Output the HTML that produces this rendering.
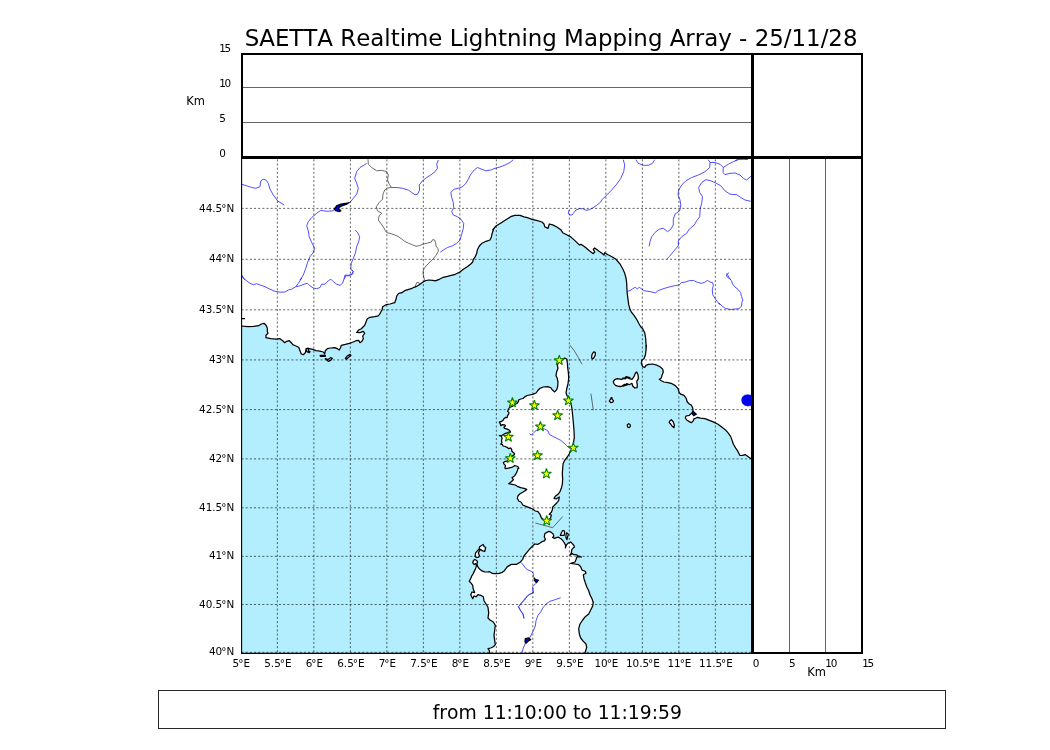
<!DOCTYPE html>
<html lang="en"><head><meta charset="utf-8"><title>SAETTA Realtime Lightning Mapping Array</title>
<style>
html,body{margin:0;padding:0;background:#fff;}
body{width:1050px;height:750px;position:relative;overflow:hidden;font-family:"DejaVu Sans","Liberation Sans",sans-serif;}
svg text{white-space:pre;font-kerning:none;font-variant-ligatures:none;}
</style></head><body>
<svg width="1050" height="750" viewBox="0 0 1050 750" style="position:absolute;left:0;top:0">
<defs><clipPath id="mc"><rect x="241.5" y="157.5" width="511.0" height="495.5"/></clipPath></defs>
<rect x="241.5" y="157.5" width="511.0" height="495.5" fill="#b3eeff"/>
<g clip-path="url(#mc)">
<polygon points="230,326.0 241.1,326.0 248.0,326.7 253.3,326.4 258.7,325.7 261.3,324.0 264.0,323.3 266.0,325.3 267.3,328.0 267.3,331.3 268.0,333.3 266.0,335.3 266.0,337.7 270.7,338.7 276.0,339.1 280.0,338.7 282.7,340.7 284.7,342.7 286.7,341.3 289.3,340.7 291.3,342.7 292.7,344.7 296.0,346.0 298.7,347.3 300.0,350.7 301.3,354.0 303.3,354.7 305.3,352.7 306.0,350.0 307.3,348.4 309.3,348.7 312.7,349.3 316.0,350.7 320.0,351.1 323.3,352.0 324.7,354.0 325.3,350.7 327.3,348.7 330.7,348.0 334.7,347.6 337.3,348.7 339.3,350.0 340.7,347.3 341.3,345.3 345.3,344.4 349.3,343.3 353.3,342.0 356.0,340.7 358.7,340.4 360.0,342.7 362.0,341.3 363.3,338.7 362.7,336.0 364.7,333.3 363.3,331.3 360.0,332.7 356.7,332.4 358.7,330.0 361.3,328.7 364.7,325.3 366.0,322.0 367.3,318.7 370.0,317.3 374.7,316.7 378.3,315.8 379.3,314.7 382.0,310.0 382.7,306.7 386.0,304.7 390.0,304.0 394.7,302.7 396.0,299.3 396.7,296.0 398.7,293.3 402.0,292.7 404.7,290.7 408.7,289.3 411.3,288.7 414.0,287.3 416.7,286.3 419.3,284.7 422.0,282.7 424.7,280.9 428.7,280.0 432.7,280.4 435.3,280.9 439.3,279.3 443.3,277.3 447.3,276.4 451.3,275.3 455.3,274.3 459.3,272.4 463.3,269.3 467.3,266.7 470.7,264.0 472.7,262.0 473.3,259.3 475.3,256.7 476.7,253.3 477.3,250.0 479.3,246.0 482.0,243.3 486.0,241.3 490.0,240.0 491.3,237.3 492.0,234.0 493.3,230.0 492.7,230.0 496.0,226.0 501.3,222.7 506.7,219.3 510.7,216.7 514.7,215.3 520.0,215.3 524.0,216.9 527.3,217.7 532.0,219.3 537.3,220.7 542.0,222.0 544.0,224.0 544.7,226.7 548.0,228.4 549.3,224.0 552.7,224.9 557.3,227.3 560.7,229.7 562.7,232.7 566.7,234.7 570.7,236.9 574.7,240.4 578.0,243.6 579.3,244.9 581.3,244.4 585.3,247.3 589.3,250.7 593.3,253.7 594.7,252.0 593.3,249.3 594.7,248.0 598.7,251.1 602.0,253.3 604.0,255.1 604.7,252.7 608.0,254.7 612.0,256.7 616.0,259.3 620.0,264.0 622.7,268.7 624.7,273.3 626.0,278.0 626.7,283.3 626.9,288.7 627.3,294.0 628.0,299.3 628.7,304.7 630.0,309.3 631.3,312.0 634.0,315.3 636.7,319.3 638.7,323.3 640.7,326.7 642.7,328.7 644.7,332.7 645.6,338.0 646.0,343.3 646.0,350.0 646.4,345.3 646.0,350.7 645.3,355.3 644.0,358.7 642.0,360.0 641.3,363.3 642.7,366.7 644.7,367.3 646.0,365.3 648.7,364.3 652.7,364.0 656.7,365.1 660.0,366.7 662.7,369.1 663.3,372.0 662.0,375.3 661.3,378.0 659.3,379.3 661.3,380.7 664.0,382.0 668.0,382.7 672.0,383.7 675.3,385.6 678.0,388.7 679.3,392.7 681.3,394.4 684.0,395.3 686.0,398.0 687.3,402.0 689.3,404.0 691.3,405.1 692.7,408.0 693.1,411.3 692.0,413.1 689.3,415.3 686.0,416.0 685.3,418.0 686.7,420.0 689.3,421.6 691.3,422.7 693.3,420.7 694.0,418.7 694.7,418.7 697.5,417.3 700.3,418.2 704.9,418.7 708.7,420.1 713.3,421.9 718.0,424.3 721.7,427.1 725.5,429.9 728.3,433.1 730.6,436.4 732.0,440.1 733.4,444.3 735.7,448.1 737.6,450.9 739.9,455.5 742.3,455.3 745.1,454.6 747.9,456.5 752.5,459.7 765,459.7 765,140 230,140" fill="#fff" stroke="#000" stroke-width="1.25" stroke-linejoin="round"/>
<polygon points="510.5,432.1 509.5,430.2 507.3,429.1 504.7,428.3 503.9,427.3 505.5,425.9 504.7,424.9 502.5,424.6 500.7,425.7 500.4,423.8 499.3,422.2 501.5,421.4 503.3,420.1 503.9,418.7 505.5,417.4 507.1,417.7 507.6,415.5 508.7,414.2 508.9,412.3 507.6,411.5 508.4,409.4 509.5,407.5 512.1,406.5 515.3,404.3 516.9,403.5 518.3,401.9 518.8,399.8 520.7,399.0 523.1,398.5 524.4,397.1 527.1,395.5 532.7,394.3 536.0,393.0 538.0,390.3 540.0,388.3 543.3,387.0 547.3,386.6 550.7,387.7 552.7,390.3 554.7,391.9 556.7,389.7 557.7,386.3 558.0,382.3 557.3,378.3 556.0,375.7 556.7,371.7 558.0,368.3 557.3,365.0 558.7,362.3 561.3,359.7 564.7,358.1 566.7,359.0 567.3,362.3 567.7,367.7 568.4,373.0 568.7,378.3 568.0,383.7 566.7,389.0 566.0,393.0 567.3,396.3 569.3,399.7 571.1,403.7 572.0,409.0 572.7,415.7 573.3,422.3 574.0,430.3 574.3,438.3 574.0,439.0 573.7,441.7 572.9,445.7 571.3,449.7 569.3,453.7 567.3,457.0 564.7,460.3 563.1,463.7 562.7,468.3 562.3,473.7 562.7,479.0 562.3,484.3 561.3,488.3 560.0,491.7 558.0,494.3 555.3,496.3 554.0,498.3 556.0,499.0 559.3,497.0 558.7,500.3 556.7,503.0 554.7,505.0 552.7,507.0 552.4,509.7 551.3,512.3 549.3,514.3 551.3,515.0 550.7,517.7 548.7,520.3 546.7,521.7 544.0,520.3 541.3,517.7 540.0,514.3 538.0,511.7 535.3,511.0 532.7,509.0 529.3,507.7 526.0,506.3 522.7,505.0 521.3,502.3 518.7,501.0 517.3,498.3 518.0,495.7 520.0,493.7 522.7,492.3 524.7,491.0 526.7,489.4 524.0,488.3 520.7,487.7 517.3,486.3 515.3,485.0 512.0,484.3 508.7,483.7 511.3,481.7 513.3,479.7 512.0,477.7 514.7,475.7 516.0,473.7 517.3,471.0 518.0,468.3 518.8,468.4 518.0,466.8 516.4,466.0 514.5,465.5 513.7,466.5 511.6,467.3 508.4,468.1 505.5,468.7 504.9,467.9 505.5,465.7 504.1,464.1 503.3,462.5 504.7,461.7 507.3,460.9 512.7,455.6 514.3,454.8 514.5,453.5 513.2,452.4 511.9,451.3 511.6,449.2 510.5,447.9 508.7,448.7 507.6,447.6 505.2,446.5 503.1,446.0 502.5,444.7 500.7,444.1 502.0,442.8 501.5,440.7 502.0,438.5 501.5,436.1 499.3,435.6 502.0,435.3 504.7,433.7 507.9,432.7" fill="#fff" stroke="#000" stroke-width="1.25" stroke-linejoin="round"/>
<polygon points="490.0,654.0 489.3,650.7 488.0,648.7 490.7,648.0 493.3,646.7 495.3,644.7 494.7,640.7 494.0,635.3 494.7,630.0 495.3,625.3 493.3,622.0 490.0,620.0 488.0,618.0 488.7,612.7 488.0,607.3 486.0,604.0 484.0,600.7 483.3,596.7 480.7,595.3 478.0,594.7 476.0,596.7 474.0,596.0 472.7,598.7 470.7,594.7 472.0,592.0 474.7,592.7 473.3,589.3 472.7,585.3 470.7,582.7 469.3,581.3 471.3,577.3 471.3,576.8 472.9,574.1 474.5,570.9 475.9,567.7 476.4,565.6 475.6,563.5 474.0,564.5 472.7,562.7 473.5,560.5 474.8,559.5 476.7,560.5 477.5,561.9 476.9,564.0 477.5,566.1 479.3,568.8 482.0,570.9 484.7,571.9 487.3,572.0 489.5,571.7 491.6,573.1 493.7,573.7 496.4,573.7 499.1,573.3 502.3,572.3 504.4,570.7 505.7,568.8 507.1,566.9 509.2,565.6 511.3,564.4 514.0,564.3 516.7,564.3 518.8,562.9 520.0,562.4 522.7,559.3 524.0,556.0 526.7,552.7 530.0,548.7 532.7,546.0 534.7,544.0 537.7,544.4 539.8,543.3 541.9,541.7 544.3,540.9 545.4,539.3 544.3,536.9 544.9,533.5 547.3,532.1 549.1,531.3 551.0,532.1 553.1,534.0 553.9,536.1 552.6,537.5 554.5,538.3 556.3,537.7 558.5,537.2 560.1,538.3 561.7,539.3 563.0,540.9 564.1,542.5 564.9,543.9 565.7,545.5 565.4,547.9 566.5,544.9 568.1,543.1 570.7,542.0 572.3,543.6 573.9,545.5 574.5,547.1 573.1,548.1 571.8,549.7 571.5,551.9 571.0,553.5 569.9,555.3 572.3,553.5 573.4,554.5 575.5,554.5 577.1,555.1 578.2,556.1 580.3,556.7 581.4,556.9 578.7,556.9 577.1,556.7 576.6,557.7 576.1,559.3 575.0,562.0 570.7,563.3 574.7,564.0 578.7,564.7 580.7,566.7 582.0,570.0 585.3,571.3 586.0,573.3 583.3,574.7 584.0,578.7 585.3,582.7 586.7,586.7 588.7,590.7 590.0,594.7 592.0,598.7 593.3,602.7 593.3,602.0 592.7,606.0 590.7,610.0 588.7,614.0 585.3,616.7 582.7,620.0 580.0,624.0 578.7,628.7 579.3,634.0 580.7,638.0 583.3,641.3 586.0,644.0 586.7,647.3 584.7,654.0" fill="#fff" stroke="#000" stroke-width="1.25" stroke-linejoin="round"/>
<polygon points="613.3,381.7 614.7,379.7 617.3,378.6 621.3,379.4 624.7,378.1 626.0,376.7 630.0,377.7 622.7,378.0 625.3,378.9 626.7,377.3 629.3,378.7 632.0,379.3 634.0,376.7 635.3,373.3 636.7,372.0 638.0,374.7 638.4,378.7 636.7,381.3 637.3,384.7 637.1,387.7 634.7,388.0 632.7,386.0 632.0,383.3 629.3,384.7 626.7,383.7 624.0,386.0 620.0,386.7 627.3,385.0 624.7,384.3 622.0,386.1 618.7,386.3 616.0,385.7 614.0,383.9" fill="#fff" stroke="#000" stroke-width="1.25" stroke-linejoin="round"/>
<polygon points="670.0,420.7 671.3,419.7 673.3,422.0 674.4,425.3 674.0,427.7 672.0,426.0 670.4,423.7 669.1,422.4" fill="#fff" stroke="#000" stroke-width="1.25" stroke-linejoin="round"/>
<polygon points="627.3,424.7 628.7,423.7 630.1,424.5 630.4,426.4 629.1,427.6 627.5,426.9" fill="#fff" stroke="#000" stroke-width="1.25" stroke-linejoin="round"/>
<polygon points="591.6,357.7 592.0,354.3 593.7,351.9 595.3,352.3 595.3,355.0 593.7,358.1 592.4,359.0" fill="#fff" stroke="#000" stroke-width="1.25" stroke-linejoin="round"/>
<polygon points="609.3,401.0 610.4,399.4 611.1,397.7 612.0,397.7 612.1,399.4 613.5,400.5 612.9,402.1 610.7,402.6" fill="#fff" stroke="#000" stroke-width="1.25" stroke-linejoin="round"/>
<polygon points="479.6,546.7 483.1,544.5 484.1,546.4 485.7,547.5 484.7,551.5 482.0,550.7 480.4,549.3 479.3,551.2 478.3,552.8 479.3,555.5 478.8,557.1 476.1,557.3 475.1,556.5 475.6,552.8 477.5,550.7 479.3,548.8" fill="#fff" stroke="#000" stroke-width="1.25" stroke-linejoin="round"/>
<polygon points="560.3,535.3 561.4,532.7 562.7,530.5 564.3,530.8 564.6,533.2 564.1,535.3 561.9,535.3" fill="#fff" stroke="#000" stroke-width="1.25" stroke-linejoin="round"/>
<polygon points="566.5,532.9 567.8,533.5 568.3,534.8 567.8,536.1 567.3,538.0 567.0,539.6 566.2,538.5 565.9,536.4 566.2,534.3" fill="#fff" stroke="#000" stroke-width="1.25" stroke-linejoin="round"/>
<polygon points="325.3,358.7 328.0,359.6 330.7,357.7 332.3,358.3 330.7,360.4 328.3,361.3" fill="#fff" stroke="#000" stroke-width="1.25" stroke-linejoin="round"/>
<polygon points="345.3,358.3 347.3,356.0 350.0,354.4 350.9,355.3 348.7,357.3 346.4,359.3" fill="#fff" stroke="#000" stroke-width="1.25" stroke-linejoin="round"/>
<polygon points="320.4,355.3 325.3,355.3 325.3,356.3 320.4,356.3" fill="#fff" stroke="#000" stroke-width="1.25" stroke-linejoin="round"/>
<polygon points="306.0,348.7 308.7,348.4 308.3,350.7 310.0,351.6 309.3,352.7 306.7,351.6" fill="#fff" stroke="#000" stroke-width="1.25" stroke-linejoin="round"/>
<path d="M241 318.7H245" stroke="#000" stroke-width="1.3" fill="none"/>
<polyline points="424.7,280.9 424.0,278.0 423.1,274.0 423.3,270.0 426.0,266.0 430.0,262.0 433.3,258.7 436.0,255.3 438.3,251.3 438.0,248.7 436.0,246.0 435.6,242.7 434.7,240.0 432.7,239.6 431.3,242.0 427.3,243.1 423.3,244.0 419.3,245.7 416.0,246.3 412.7,244.9 408.7,243.3 404.7,241.3 401.3,238.7 398.0,236.4 394.0,234.7 390.0,233.3 386.7,232.7 385.3,230.7 384.2,228.3 380.8,223.3 378.3,220.0 379.2,215.8 381.7,213.3 377.5,210.8 376.3,206.7 379.2,202.5 382.5,199.2 383.0,194.2 384.7,190.0 387.5,188.0 391.7,187.5 389.2,184.2 387.5,180.0 388.3,175.0 386.7,171.7 381.7,170.3 376.7,170.8 371.7,167.5 368.3,164.2 368.0,159.2" fill="none" stroke="#3c3c3c" stroke-width="0.75"/>
<polyline points="415.3,286.0 416.7,282.7 418.7,282.3 419.3,284.0" fill="none" stroke="#3c3c3c" stroke-width="0.75"/>
<polyline points="569.7,345.0 574.0,350.3 578.0,357.0 582.0,364.3" fill="none" stroke="#3c3c3c" stroke-width="0.75"/>
<polyline points="590.9,393.7 592.0,401.0 593.3,410.3" fill="none" stroke="#3c3c3c" stroke-width="0.75"/>
<polyline points="535.3,523.0 552.7,527.7 562.7,516.6" fill="none" stroke="#3c3c3c" stroke-width="0.75"/>
<polyline points="626.7,291.3 630.0,290.7 632.7,288.7 635.3,287.3 637.3,288.9 639.3,287.3 641.3,288.7 644.0,290.7 648.0,291.3 652.0,292.0 655.3,292.9 658.0,290.7 662.7,288.9 668.0,287.3 673.3,286.0 679.3,284.9 681.3,282.7 685.3,282.0 689.3,280.7 693.3,280.4 697.3,282.3 701.3,283.3 704.7,282.3 707.3,280.4 710.0,282.0 712.7,282.7 713.3,285.3 712.3,290.0 712.7,294.7 715.3,298.7 718.0,302.7 720.0,304.7 718.9,302.9 722.3,306.3 725.7,308.6 730.3,309.4 734.9,309.1 738.9,308.6 741.5,306.3 741.9,302.3 742.9,300.0 741.5,296.6 740.6,292.6 738.3,289.7 734.9,286.9 732.6,284.0 731.4,280.6 729.1,278.3 727.1,276.9 726.3,274.9 727.8,273.5 729.1,272.8" fill="none" stroke="#3030ff" stroke-width="0.85" stroke-linejoin="round"/>
<polyline points="529.3,433.7 531.3,435.0 534.0,432.3 537.3,429.7 540.4,428.3 544.7,429.0 548.0,431.0 549.3,434.3 552.7,436.3 556.7,438.3 560.7,440.3 564.0,443.0 566.0,445.0 568.0,447.0 571.3,449.0" fill="none" stroke="#3030ff" stroke-width="0.85" stroke-linejoin="round"/>
<polyline points="520.7,562.4 523.3,564.7 525.3,568.0 528.0,570.0 531.3,571.3 533.3,573.3 533.3,576.7 535.3,579.3 536.0,583.3 532.7,586.7 533.3,592.7 529.3,594.7 526.0,597.3 522.7,601.3 518.7,606.7 520.7,610.7 523.3,614.7 524.0,618.7" fill="none" stroke="#3030ff" stroke-width="0.85" stroke-linejoin="round"/>
<polyline points="532.7,590.0 533.3,592.7 530.0,594.0 527.3,596.0 524.7,600.0 521.3,603.3 518.3,606.7 520.0,610.0 522.7,613.3 524.0,618.0" fill="none" stroke="#3030ff" stroke-width="0.85" stroke-linejoin="round"/>
<polyline points="560.7,597.7 555.3,599.6 550.0,601.3 546.0,604.0 542.7,608.0 540.7,612.0 538.0,615.3 536.0,620.7 535.3,626.0 533.3,630.7 530.7,636.0 528.7,639.3 525.3,643.3 523.3,648.0 522.0,652.7" fill="none" stroke="#3030ff" stroke-width="0.85" stroke-linejoin="round"/>
<polyline points="241.7,184.2 246.7,185.8 251.7,187.5 255.8,188.3 260.0,186.7 260.8,180.8 263.3,179.2 265.8,180.0 268.3,183.3 270.0,189.2 273.3,195.0 277.5,200.8 284.2,205.0" fill="none" stroke="#3030ff" stroke-width="0.85" stroke-linejoin="round"/>
<polyline points="366.7,163.3 364.2,165.0 360.0,167.5 356.7,171.7 354.7,178.3 356.7,183.3 358.3,188.3 356.7,194.2 353.3,198.3 350.0,202.5 348.3,203.3 335.0,209.2 333.3,210.8 326.7,211.3 320.8,210.3 316.7,213.3 311.7,217.5 308.3,221.7 306.7,225.8 308.3,230.8 309.2,236.7 311.7,242.5 314.7,248.3 313.3,252.5 310.0,256.7 307.5,262.5 305.8,268.3 303.3,275.0 300.0,280.0 301.7,278.3 298.3,283.3 295.8,286.7 291.7,289.2 288.3,290.0 285.0,292.0 280.0,292.2 275.0,291.3 270.0,289.2 265.0,286.7 260.0,285.0 256.7,283.7 253.3,284.7 250.0,283.3 246.7,280.8 243.3,278.3 241.7,275.8" fill="none" stroke="#3030ff" stroke-width="0.85" stroke-linejoin="round"/>
<polyline points="355.3,230.0 357.5,232.5 359.7,236.7 358.7,241.7 356.7,246.7 355.3,253.3 353.3,258.3 351.3,263.3 350.8,268.3 353.0,271.7 351.7,274.2 348.3,275.3 345.0,275.0 344.2,278.3 342.5,283.3 340.0,285.3 336.7,284.2 333.3,281.7 330.8,279.2 328.3,280.8 325.0,284.2 321.7,284.2 320.0,287.5 316.7,288.7 313.3,288.0 310.0,285.8 307.5,283.3 304.2,284.2 300.0,285.8 295.8,286.7" fill="none" stroke="#3030ff" stroke-width="0.85" stroke-linejoin="round"/>
<polyline points="344.2,279.2 345.8,275.8 349.2,275.8 352.5,274.2 353.3,271.7 351.7,270.0" fill="none" stroke="#3030ff" stroke-width="0.85" stroke-linejoin="round"/>
<polyline points="391.7,187.5 396.7,187.5 402.5,188.3 408.3,190.0 411.7,192.5 415.0,194.7 417.5,194.2 419.7,190.0 419.2,185.0 422.5,180.8 426.7,177.5 430.8,175.0 435.0,171.7 437.5,168.3 436.7,164.2 438.3,160.0" fill="none" stroke="#3030ff" stroke-width="0.85" stroke-linejoin="round"/>
<polyline points="513.3,159.7 510.0,162.5 505.0,165.0 500.0,167.0 495.0,168.3 490.8,170.0 485.8,170.8 481.7,169.2 477.5,167.5 474.2,170.0 470.8,174.2 468.3,179.2 465.8,183.3 462.5,186.7 458.3,188.3 454.2,189.2 450.8,192.5 451.7,197.5 453.3,202.5 453.7,207.5 451.7,211.7 453.3,215.0 457.5,216.7 460.8,219.2 463.7,223.3 463.3,228.3 461.7,234.2 460.0,240.0 456.7,243.3 452.5,245.8 447.5,247.5 443.3,250.0 440.3,252.2" fill="none" stroke="#3030ff" stroke-width="0.85" stroke-linejoin="round"/>
<polyline points="623.3,159.7 624.7,165.0 623.7,171.7 620.8,178.3 616.7,184.2 611.7,190.0 606.7,195.0 601.7,200.0 600.7,202.0 596.7,205.3 592.7,208.0 589.3,209.7 586.0,210.3 582.7,208.7 579.3,208.7 576.0,210.0 573.3,213.3 572.0,215.1 569.3,214.7 568.3,213.3 569.1,210.0" fill="none" stroke="#3030ff" stroke-width="0.85" stroke-linejoin="round"/>
<polyline points="635.8,159.7 638.3,163.3 643.3,165.3 648.3,165.3 652.5,163.3 654.7,159.7" fill="none" stroke="#3030ff" stroke-width="0.85" stroke-linejoin="round"/>
<polyline points="708.3,159.7 710.0,162.5 709.7,167.5 705.0,171.7 698.3,175.0 691.7,177.5 685.8,180.8 681.7,185.0 678.7,190.0 678.0,195.0 680.0,200.0 680.8,205.0 679.7,210.8 675.0,214.2 673.3,219.2 673.3,225.0 670.8,229.2 667.5,231.7 663.3,228.3 659.2,229.2 655.0,232.5 651.7,236.7 650.0,241.7 649.2,246.3" fill="none" stroke="#3030ff" stroke-width="0.85" stroke-linejoin="round"/>
<polyline points="710.0,162.5 715.0,162.5 720.0,164.2 723.3,167.5 723.0,172.5 725.0,174.7 730.0,173.3 735.0,173.0 740.0,175.0 743.3,178.3 746.7,180.0 750.8,176.3" fill="none" stroke="#3030ff" stroke-width="0.85" stroke-linejoin="round"/>
<polyline points="723.3,167.5 728.3,164.2 733.3,161.7 738.3,159.7" fill="none" stroke="#3030ff" stroke-width="0.85" stroke-linejoin="round"/>
<polyline points="750.8,201.3 745.0,200.0 740.8,197.5 736.7,194.7 730.0,194.2 725.0,190.8 720.8,185.8 715.8,183.0 710.8,180.8 705.8,179.7 701.7,182.5 698.7,187.5 699.7,192.5 702.5,196.7 701.7,203.3 700.3,208.3 699.7,216.7 696.7,220.8 694.2,225.0 689.2,229.2 686.7,233.3 681.7,236.7 678.3,240.8 678.3,245.8 673.3,251.7 669.2,256.7 666.7,259.2" fill="none" stroke="#3030ff" stroke-width="0.85" stroke-linejoin="round"/>
<polyline points="726.7,273.3 729.2,277.5 730.8,279.7" fill="none" stroke="#3030ff" stroke-width="0.85" stroke-linejoin="round"/>
<polyline points="241.7,275.0 245.0,280.0" fill="none" stroke="#3030ff" stroke-width="0.85" stroke-linejoin="round"/>
<polyline points="735,160.8 737,159.6 743,159.3 748,159.6" fill="none" stroke="#3030ff" stroke-width="0.85" stroke-linejoin="round"/>
<polygon points="334.2,209.2 336.7,205.8 340.8,204.2 348.3,203.0 346.7,204.3 341.7,205.8 338.3,208.0 340.8,210.8 339.2,211.7 335.8,210.8" fill="#0000f0" stroke="#000" stroke-width="1.2"/>
<polygon points="741.6,400.0 742.4,397.1 744.7,395.2 747.7,394.7 751.3,395.3 753.3,397.3 753.3,404.0 751.3,405.6 747.7,406.0 744.7,405.3 742.4,403.3" fill="#0000f0" stroke="#00f" stroke-width="0.6"/>
<polygon points="692.0,413.1 693.1,411.3 694.7,412.7 696.3,414.1 693.6,415.7" fill="#0000f0" stroke="#000" stroke-width="1.2"/>
<polygon points="534.0,578.0 535.3,579.3 538.4,580.3 536.7,582.4 534.9,581.1" fill="#0000f0" stroke="#000" stroke-width="1.2"/>
<polygon points="525.3,638.7 528.7,638.0 530.7,639.6 528.0,641.3 526.0,643.3 524.9,641.3" fill="#0000f0" stroke="#000" stroke-width="1.2"/>
<path d="M277.35 157.5V653.0 M313.85 157.5V653.0 M350.35 157.5V653.0 M386.85 157.5V653.0 M423.35 157.5V653.0 M459.85 157.5V653.0 M496.35 157.5V653.0 M532.85 157.5V653.0 M569.35 157.5V653.0 M605.85 157.5V653.0 M642.35 157.5V653.0 M678.85 157.5V653.0 M715.35 157.5V653.0" stroke="#000" stroke-opacity="0.6" stroke-width="1" stroke-dasharray="2.08 2.08" stroke-dashoffset="-1.8" fill="none"/>
<path d="M241.5 652.3H752.5 M241.5 604.49H752.5 M241.5 556.33H752.5 M241.5 507.8H752.5 M241.5 458.9H752.5 M241.5 409.6H752.5 M241.5 359.92H752.5 M241.5 309.82H752.5 M241.5 259.31H752.5 M241.5 208.38H752.5" stroke="#000" stroke-opacity="0.6" stroke-width="1" stroke-dasharray="2.08 2.08" fill="none"/>
<polygon points="559.3,355.1 560.49,358.77 564.34,358.76 561.22,361.02 562.42,364.69 559.3,362.42 556.18,364.69 557.38,361.02 554.26,358.76 558.11,358.77" fill="#ffff00" stroke="#008000" stroke-width="1.05" stroke-linejoin="bevel"/>
<polygon points="512.4,397.3 513.59,400.97 517.44,400.96 514.32,403.22 515.52,406.89 512.4,404.62 509.28,406.89 510.48,403.22 507.36,400.96 511.21,400.97" fill="#ffff00" stroke="#008000" stroke-width="1.05" stroke-linejoin="bevel"/>
<polygon points="534.4,400.2 535.59,403.87 539.44,403.86 536.32,406.12 537.52,409.79 534.4,407.52 531.28,409.79 532.48,406.12 529.36,403.86 533.21,403.87" fill="#ffff00" stroke="#008000" stroke-width="1.05" stroke-linejoin="bevel"/>
<polygon points="568.4,395.3 569.59,398.97 573.44,398.96 570.32,401.22 571.52,404.89 568.4,402.62 565.28,404.89 566.48,401.22 563.36,398.96 567.21,398.97" fill="#ffff00" stroke="#008000" stroke-width="1.05" stroke-linejoin="bevel"/>
<polygon points="557.6,410.2 558.79,413.87 562.64,413.86 559.52,416.12 560.72,419.79 557.6,417.52 554.48,419.79 555.68,416.12 552.56,413.86 556.41,413.87" fill="#ffff00" stroke="#008000" stroke-width="1.05" stroke-linejoin="bevel"/>
<polygon points="540.4,421.3 541.59,424.97 545.44,424.96 542.32,427.22 543.52,430.89 540.4,428.62 537.28,430.89 538.48,427.22 535.36,424.96 539.21,424.97" fill="#ffff00" stroke="#008000" stroke-width="1.05" stroke-linejoin="bevel"/>
<polygon points="508.4,431.7 509.59,435.37 513.44,435.36 510.32,437.62 511.52,441.29 508.4,439.02 505.28,441.29 506.48,437.62 503.36,435.36 507.21,435.37" fill="#ffff00" stroke="#008000" stroke-width="1.05" stroke-linejoin="bevel"/>
<polygon points="573.3,442.5 574.49,446.17 578.34,446.16 575.22,448.42 576.42,452.09 573.3,449.82 570.18,452.09 571.38,448.42 568.26,446.16 572.11,446.17" fill="#ffff00" stroke="#008000" stroke-width="1.05" stroke-linejoin="bevel"/>
<polygon points="510.3,453.1 511.49,456.77 515.34,456.76 512.22,459.02 513.42,462.69 510.3,460.42 507.18,462.69 508.38,459.02 505.26,456.76 509.11,456.77" fill="#ffff00" stroke="#008000" stroke-width="1.05" stroke-linejoin="bevel"/>
<polygon points="537.5,450.2 538.69,453.87 542.54,453.86 539.42,456.12 540.62,459.79 537.5,457.52 534.38,459.79 535.58,456.12 532.46,453.86 536.31,453.87" fill="#ffff00" stroke="#008000" stroke-width="1.05" stroke-linejoin="bevel"/>
<polygon points="546.4,468.5 547.59,472.17 551.44,472.16 548.32,474.42 549.52,478.09 546.4,475.82 543.28,478.09 544.48,474.42 541.36,472.16 545.21,472.17" fill="#ffff00" stroke="#008000" stroke-width="1.05" stroke-linejoin="bevel"/>
<polygon points="546.7,515.5 547.89,519.17 551.74,519.16 548.62,521.42 549.82,525.09 546.7,522.82 543.58,525.09 544.78,521.42 541.66,519.16 545.51,519.17" fill="#ffff00" stroke="#008000" stroke-width="1.05" stroke-linejoin="bevel"/>
</g>
<path d="M241.6 157V653.4H752" stroke="#000" stroke-width="1.1" fill="none"/>
<path d="M242 87.5H752M242 122.5H752" stroke="#666" stroke-width="1" fill="none"/>
<path d="M789.5 158V652M825.5 158V652" stroke="#666" stroke-width="1" fill="none"/>
<path d="M242 158V54H862V653H752" fill="none" stroke="#000" stroke-width="2"/>
<path d="M241 157.5H863M752.5 53V654" stroke="#000" stroke-width="3" fill="none"/>
<rect x="158.5" y="690.5" width="787" height="38" fill="#fff" stroke="#1c1c1c" stroke-width="0.95"/>
<g font-family="DejaVu Sans, Liberation Sans, sans-serif" fill="#000">
<text x="551.1" y="46.2" font-size="22.92" text-anchor="middle">SAETTA Realtime Lightning Mapping Array - 25/11/28</text>
<text x="557.3" y="719.4" font-size="18.75" text-anchor="middle">from 11:10:00 to 11:19:59</text>
<g font-size="10.42">
<text x="219.2" y="52" letter-spacing="-1.2">15</text>
<text x="219.2" y="87" letter-spacing="-1.2">10</text>
<text x="219.2" y="122">5</text>
<text x="219.2" y="156.8">0</text>
<text x="195.6" y="104.7" font-size="11.46" text-anchor="middle">Km</text>
<text x="234.2" y="655.4" text-anchor="end">40<tspan dx="-1">°</tspan>N</text>
<text x="234.2" y="607.6" text-anchor="end">40.5<tspan dx="-1">°</tspan>N</text>
<text x="234.2" y="559.4" text-anchor="end">41<tspan dx="-1">°</tspan>N</text>
<text x="234.2" y="510.9" text-anchor="end">41.5<tspan dx="-1">°</tspan>N</text>
<text x="234.2" y="462.0" text-anchor="end">42<tspan dx="-1">°</tspan>N</text>
<text x="234.2" y="412.7" text-anchor="end">42.5<tspan dx="-1">°</tspan>N</text>
<text x="234.2" y="363.0" text-anchor="end">43<tspan dx="-1">°</tspan>N</text>
<text x="234.2" y="312.9" text-anchor="end">43.5<tspan dx="-1">°</tspan>N</text>
<text x="234.2" y="262.4" text-anchor="end">44<tspan dx="-1">°</tspan>N</text>
<text x="234.2" y="211.5" text-anchor="end">44.5<tspan dx="-1">°</tspan>N</text>
<text x="241.3" y="666.7" text-anchor="middle">5<tspan dx="-1">°</tspan>E</text>
<text x="277.9" y="666.7" text-anchor="middle">5.5<tspan dx="-1">°</tspan>E</text>
<text x="314.4" y="666.7" text-anchor="middle">6<tspan dx="-1">°</tspan>E</text>
<text x="350.9" y="666.7" text-anchor="middle">6.5<tspan dx="-1">°</tspan>E</text>
<text x="387.4" y="666.7" text-anchor="middle">7<tspan dx="-1">°</tspan>E</text>
<text x="423.9" y="666.7" text-anchor="middle">7.5<tspan dx="-1">°</tspan>E</text>
<text x="460.4" y="666.7" text-anchor="middle">8<tspan dx="-1">°</tspan>E</text>
<text x="496.9" y="666.7" text-anchor="middle">8.5<tspan dx="-1">°</tspan>E</text>
<text x="533.4" y="666.7" text-anchor="middle">9<tspan dx="-1">°</tspan>E</text>
<text x="569.9" y="666.7" text-anchor="middle">9.5<tspan dx="-1">°</tspan>E</text>
<text x="606.4" y="666.7" text-anchor="middle">10<tspan dx="-1">°</tspan>E</text>
<text x="642.9" y="666.7" text-anchor="middle">10.5<tspan dx="-1">°</tspan>E</text>
<text x="679.4" y="666.7" text-anchor="middle">11<tspan dx="-1">°</tspan>E</text>
<text x="715.9" y="666.7" text-anchor="middle">11.5<tspan dx="-1">°</tspan>E</text>
<text x="752.7" y="666.7">0</text>
<text x="789" y="666.7">5</text>
<text x="825.3" y="666.7" letter-spacing="-1.2">10</text>
<text x="862.2" y="666.7" letter-spacing="-1.2">15</text>
<text x="816.6" y="675.7" font-size="11.46" text-anchor="middle">Km</text>
</g></g>
</svg>
</body></html>
